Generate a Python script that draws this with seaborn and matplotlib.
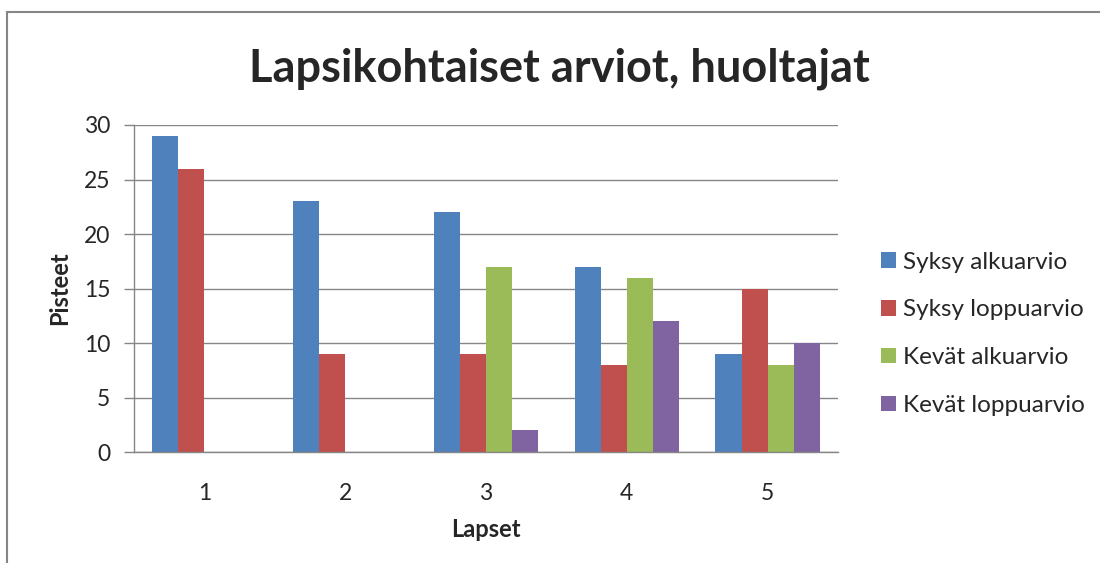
import numpy as np
import pandas as pd
import matplotlib
matplotlib.use("Agg")
import matplotlib.pyplot as plt
import seaborn as sns
from matplotlib.patches import Rectangle

lapset = ["1", "2", "3", "4", "5"]
sarjat = ["Syksy alkuarvio", "Syksy loppuarvio", "Kevät alkuarvio", "Kevät loppuarvio"]
syksy_alku = [29, 23, 22, 17, 9]
syksy_loppu = [26, 9, 9, 8, 15]
kevat_alku = [0, 0, 17, 16, 8]
kevat_loppu = [0, 0, 2, 12, 10]
varit = ["#4F81BD", "#C0504D", "#9BBB59", "#8064A2"]

df = pd.DataFrame({
    "Lapset": lapset * 4,
    "Sarja": np.repeat(sarjat, len(lapset)),
    "Pisteet": syksy_alku + syksy_loppu + kevat_alku + kevat_loppu,
})

sns.set_style("white")
plt.rcParams["font.family"] = ["Lato", "DejaVu Sans"]

fig = plt.figure(figsize=(11, 5.63), dpi=100)
ax = fig.add_axes([0.1218, 0.197, 0.64, 0.581])

sns.barplot(data=df, x="Lapset", y="Pisteet", hue="Sarja", palette=varit,
            width=0.74, linewidth=0, saturation=1, ax=ax)

gray = "#868686"
ax.set_ylim(0, 30)
ax.set_yticks(range(0, 31, 5))
ax.yaxis.grid(True, color=gray, linewidth=1)
ax.set_axisbelow(True)
for s in ["top", "right"]:
    ax.spines[s].set_visible(False)
for s in ["left", "bottom"]:
    ax.spines[s].set_color(gray)
    ax.spines[s].set_linewidth(1)
ax.tick_params(axis="y", length=7, width=1, color=gray, labelsize=16.5, pad=10, direction="out", left=True)
ax.tick_params(axis="x", length=0, labelsize=16.5, pad=22)
ax.set_xlabel("Lapset", fontsize=17, fontweight="bold", labelpad=10)
ax.set_ylabel("Pisteet", fontsize=17, fontweight="bold", labelpad=9)

ax.legend(loc="center left", bbox_to_anchor=(0.801, 0.407), bbox_transform=fig.transFigure,
          frameon=False, fontsize=17.5, handlelength=0.6, handleheight=0.6,
          handletextpad=0.3, labelspacing=1.1, borderaxespad=0, borderpad=0, title=None)

fig.text(0.509, 0.877, "Lapsikohtaiset arviot, huoltajat", ha="center", va="center",
         fontsize=32.5, fontweight="bold")

fig.patches.append(Rectangle((7 / 1100, -0.05), 1.2, 1 - 12 / 563 + 0.05,
                             transform=fig.transFigure, fill=False,
                             edgecolor=gray, linewidth=1.5))

fig.savefig("out.png", dpi=100)
